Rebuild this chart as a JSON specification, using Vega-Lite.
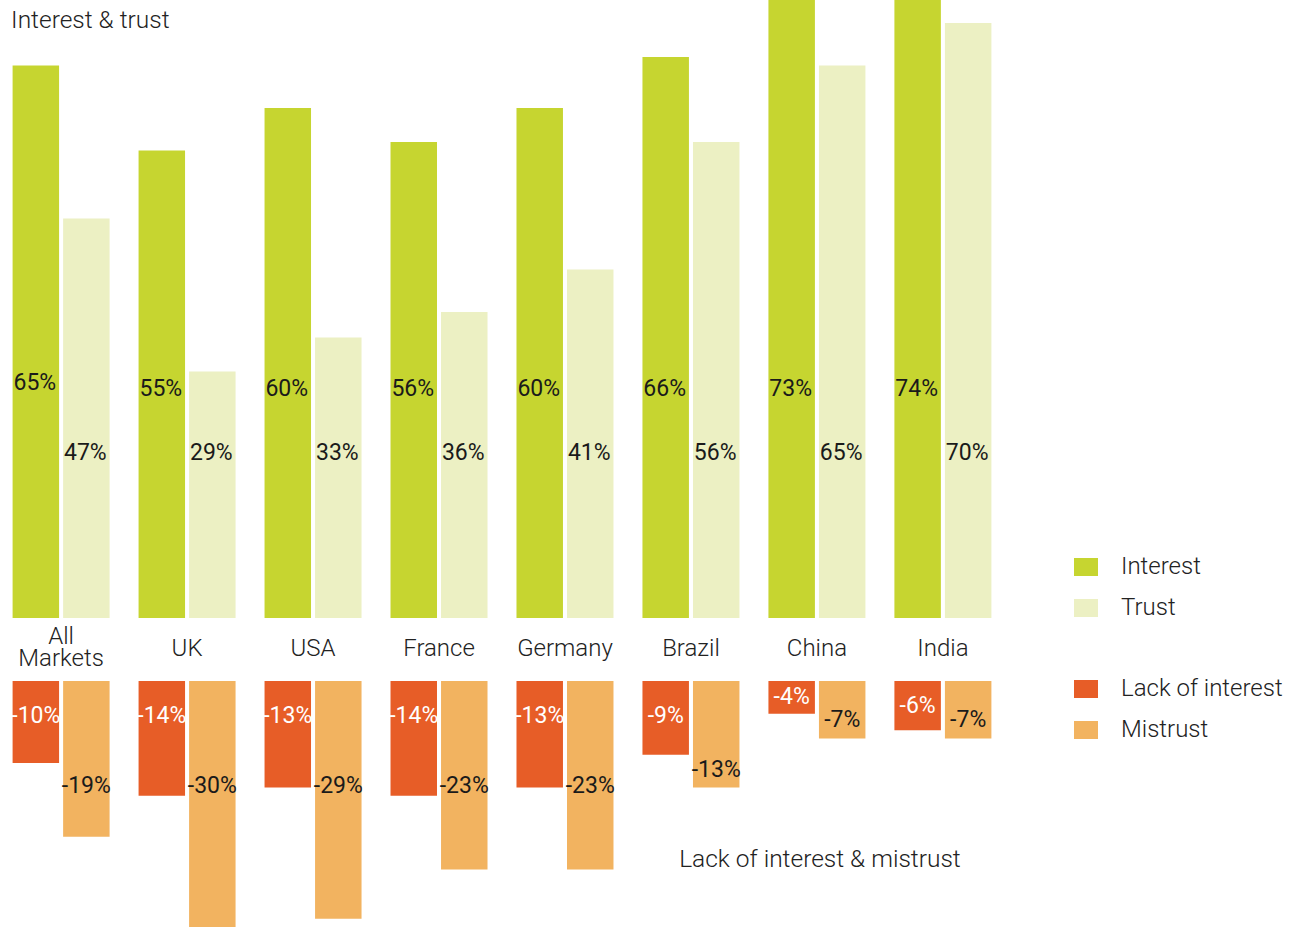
{
  "$schema": "https://vega.github.io/schema/vega-lite/v6.json",
  "width": 1004,
  "height": 927,
  "padding": 0,
  "autosize": {"type": "pad"},
  "background": "white",
  "config": {"view": {"stroke": null}, "font": "Roboto"},
  "datasets": {
    "top": [
      {"country": "All Markets", "measure": "Interest", "value": 65},
      {"country": "All Markets", "measure": "Trust", "value": 47},
      {"country": "UK", "measure": "Interest", "value": 55},
      {"country": "UK", "measure": "Trust", "value": 29},
      {"country": "USA", "measure": "Interest", "value": 60},
      {"country": "USA", "measure": "Trust", "value": 33},
      {"country": "France", "measure": "Interest", "value": 56},
      {"country": "France", "measure": "Trust", "value": 36},
      {"country": "Germany", "measure": "Interest", "value": 60},
      {"country": "Germany", "measure": "Trust", "value": 41},
      {"country": "Brazil", "measure": "Interest", "value": 66},
      {"country": "Brazil", "measure": "Trust", "value": 56},
      {"country": "China", "measure": "Interest", "value": 73},
      {"country": "China", "measure": "Trust", "value": 65},
      {"country": "India", "measure": "Interest", "value": 74},
      {"country": "India", "measure": "Trust", "value": 70}
    ],
    "bottom": [
      {"country": "All Markets", "measure": "Lack of interest", "value": -10},
      {"country": "All Markets", "measure": "Mistrust", "value": -19},
      {"country": "UK", "measure": "Lack of interest", "value": -14},
      {"country": "UK", "measure": "Mistrust", "value": -30},
      {"country": "USA", "measure": "Lack of interest", "value": -13},
      {"country": "USA", "measure": "Mistrust", "value": -29},
      {"country": "France", "measure": "Lack of interest", "value": -14},
      {"country": "France", "measure": "Mistrust", "value": -23},
      {"country": "Germany", "measure": "Lack of interest", "value": -13},
      {"country": "Germany", "measure": "Mistrust", "value": -23},
      {"country": "Brazil", "measure": "Lack of interest", "value": -9},
      {"country": "Brazil", "measure": "Mistrust", "value": -13},
      {"country": "China", "measure": "Lack of interest", "value": -4},
      {"country": "China", "measure": "Mistrust", "value": -7},
      {"country": "India", "measure": "Lack of interest", "value": -6},
      {"country": "India", "measure": "Mistrust", "value": -7}
    ],
    "titles": [
      {"name": "Interest & trust", "country": "All Markets"}
    ],
    "titles2": [
      {"name": "Lack of interest & mistrust", "country": "China"}
    ]
  },
  "layer": [
    {
      "data": {"name": "top"},
      "transform": [{"calculate": "datum.measure == 'Interest' ? 'a' : 'b'", "as": "slot"}],
      "mark": {"type": "bar", "clip": true},
      "encoding": {
        "x": {"field": "country", "type": "nominal", "scale": {"domain": ["All Markets", "UK", "USA", "France", "Germany", "Brazil", "China", "India"], "paddingInner": 0.23, "paddingOuter": 0.1}, "axis": null},
        "xOffset": {"field": "slot", "type": "nominal", "scale": {"domain": ["a", "b"], "paddingInner": 0.08}},
        "y": {"field": "value", "type": "quantitative", "scale": {"domain": [-36.353, 72.706], "nice": false, "zero": false}, "axis": null},
        "color": {
          "field": "measure", "type": "nominal",
          "scale": {"domain": ["Interest", "Trust"], "range": ["#C6D530", "#ECF0C3"]},
          "legend": {"orient": "none", "legendX": 1074, "legendY": 555, "title": null, "symbolType": "M-1,-0.75H1V0.75H-1Z", "symbolSize": 576, "symbolStrokeWidth": 0, "symbolOpacity": 1, "labelFontSize": 24, "labelFont": "Roboto", "labelFontWeight": 300, "labelColor": "#222", "labelOffset": 23, "rowPadding": 17, "padding": 0}
        }
      }
    },
    {
      "data": {"name": "top"},
      "transform": [
        {"calculate": "datum.measure == 'Interest' ? 'a' : 'b'", "as": "slot"},
        {"calculate": "datum.measure == 'Interest' ? (datum.value == 65 ? 27.6 : 27.0) : 19.4", "as": "ly"},
        {"calculate": "datum.value + '%'", "as": "lbl"}
      ],
      "mark": {"type": "text", "fontSize": 23, "font": "Liberation Sans Narrow, Roboto", "color": "#1a1a1a", "baseline": "middle", "align": "center", "dx": -1},
      "encoding": {
        "x": {"field": "country", "type": "nominal", "axis": null},
        "xOffset": {"field": "slot", "type": "nominal"},
        "y": {"field": "ly", "type": "quantitative", "scale": {"domain": [-36.353, 72.706], "nice": false, "zero": false}, "axis": null},
        "text": {"field": "lbl", "type": "nominal"}
      }
    },
    {
      "data": {"name": "titles"},
      "transform": [{"calculate": "70.25", "as": "ly"}],
      "mark": {"type": "text", "fontSize": 24.5, "fontWeight": 300, "color": "#222", "align": "left", "baseline": "middle", "dx": -50},
      "encoding": {
        "x": {"field": "country", "type": "nominal", "axis": null},
        "y": {"field": "ly", "type": "quantitative", "scale": {"domain": [-36.353, 72.706], "nice": false, "zero": false}, "axis": null},
        "text": {"field": "name", "type": "nominal"}
      }
    },
    {
      "data": {"name": "bottom"},
      "transform": [{"calculate": "datum.measure == 'Lack of interest' ? 'a' : 'b'", "as": "slot"}],
      "mark": {"type": "bar"},
      "encoding": {
        "x": {"field": "country", "type": "nominal", "axis": null},
        "xOffset": {"field": "slot", "type": "nominal"},
        "y": {"field": "value", "type": "quantitative", "scale": {"domain": [-30, 83.049], "nice": false, "zero": false}, "axis": null},
        "color": {
          "field": "measure", "type": "nominal",
          "scale": {"domain": ["Lack of interest", "Mistrust"], "range": ["#E75D27", "#F2B360"]},
          "legend": {"orient": "none", "legendX": 1074, "legendY": 677, "title": null, "symbolType": "M-1,-0.75H1V0.75H-1Z", "symbolSize": 576, "symbolStrokeWidth": 0, "symbolOpacity": 1, "labelFontSize": 24, "labelFont": "Roboto", "labelFontWeight": 300, "labelColor": "#222", "labelOffset": 23, "rowPadding": 17, "padding": 0, "labelLimit": 300}
        }
      }
    },
    {
      "data": {"name": "bottom"},
      "transform": [
        {"filter": "datum.measure == 'Lack of interest'"},
        {"calculate": "'a'", "as": "slot"},
        {"calculate": "max(datum.value / 2, -4.3)", "as": "ly"},
        {"calculate": "datum.value + '%'", "as": "lbl"}
      ],
      "mark": {"type": "text", "fontSize": 23, "font": "Liberation Sans Narrow, Roboto", "color": "#ffffff", "baseline": "middle", "align": "center"},
      "encoding": {
        "x": {"field": "country", "type": "nominal", "axis": null},
        "xOffset": {"field": "slot", "type": "nominal"},
        "y": {"field": "ly", "type": "quantitative", "scale": {"domain": [-30, 83.049], "nice": false, "zero": false}, "axis": null},
        "text": {"field": "lbl", "type": "nominal"}
      }
    },
    {
      "data": {"name": "bottom"},
      "transform": [
        {"filter": "datum.measure == 'Mistrust'"},
        {"calculate": "'b'", "as": "slot"},
        {"calculate": "max(datum.value + 2.2, -12.8)", "as": "ly"},
        {"calculate": "datum.value + '%'", "as": "lbl"}
      ],
      "mark": {"type": "text", "fontSize": 23, "font": "Liberation Sans Narrow, Roboto", "color": "#1a1a1a", "baseline": "middle", "align": "center"},
      "encoding": {
        "x": {"field": "country", "type": "nominal", "axis": null},
        "xOffset": {"field": "slot", "type": "nominal"},
        "y": {"field": "ly", "type": "quantitative", "scale": {"domain": [-30, 83.049], "nice": false, "zero": false}, "axis": null},
        "text": {"field": "lbl", "type": "nominal"}
      }
    },
    {
      "data": {"name": "top"},
      "transform": [
        {"filter": "datum.measure == 'Interest'"},
        {"calculate": "split(datum.country, ' ')", "as": "lbl"},
        {"calculate": "length(datum.lbl) > 1 ? 5.35 : 3.9", "as": "ly"}
      ],
      "mark": {"type": "text", "fontSize": 24, "fontWeight": 300, "color": "#222", "baseline": "middle", "align": "center", "lineHeight": 22},
      "encoding": {
        "x": {"field": "country", "type": "nominal", "axis": null},
        "y": {"field": "ly", "type": "quantitative", "scale": {"domain": [-30, 83.049], "nice": false, "zero": false}, "axis": null},
        "text": {"field": "lbl", "type": "nominal"}
      }
    },
    {
      "data": {"name": "titles2"},
      "transform": [{"calculate": "-21.8", "as": "ly"}],
      "mark": {"type": "text", "fontSize": 24.5, "fontWeight": 300, "color": "#222", "align": "center", "baseline": "middle", "dx": 3},
      "encoding": {
        "x": {"field": "country", "type": "nominal", "axis": null},
        "y": {"field": "ly", "type": "quantitative", "scale": {"domain": [-30, 83.049], "nice": false, "zero": false}, "axis": null},
        "text": {"field": "name", "type": "nominal"}
      }
    }
  ],
  "resolve": {"scale": {"y": "independent", "color": "independent"}}
}
